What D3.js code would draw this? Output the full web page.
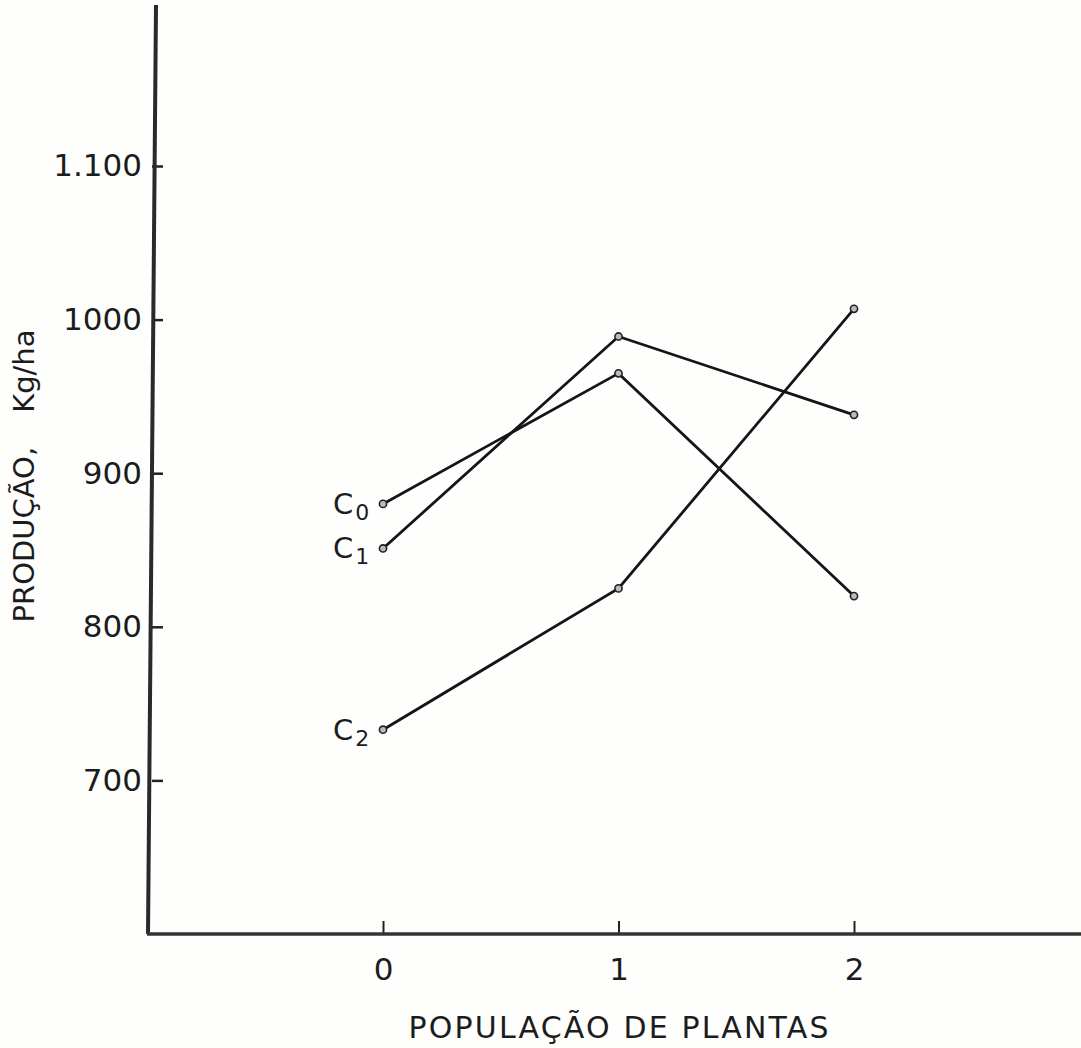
<!DOCTYPE html>
<html lang="pt">
<head>
    <meta charset="UTF-8">
    <title>Produção x População de plantas</title>
    <script src="https://d3js.org/d3.v7.min.js"></script>
    <style>
        body { margin: 0; background: #fff; }
        text { font-family: "DejaVu Sans", sans-serif; fill: #1c1c1c; }
    </style>
</head>
<body>
<script>

    // populacao de plantas (eixo x)
    var populacao = [0, 1, 2];

    // producao kg/ha de cada curva
    var serieNomes = ['0', '1', '2'];
    var c0 = [880, 965, 820];
    var c1 = [851, 989, 938];
    var c2 = [733, 825, 1007];

    var yTicks = [700, 800, 900, 1000, 1100];
    var yTickLabels = ['700', '800', '900', '1000', '1.100'];
    var xTicks = [0, 1, 2];

    var series = [c0, c1, c2];

    var W = 1081, H = 1048;

    var svg = d3.select('body')
        .append('svg')
        .attr('width', W)
        .attr('height', H);

    svg.append('rect')
        .attr('width', W)
        .attr('height', H)
        .attr('fill', '#fefefc');

    var x = d3.scaleLinear().domain([0, 2]).range([383, 854]);
    var y = d3.scaleLinear().domain([600, 1100]).range([934, 166]);

    var axisX = 152, axisY = y(600);

    // eixo y
    var gy = svg.append('g')
        .attr('transform', 'translate(' + axisX + ',0)')
        .call(d3.axisLeft(y)
            .tickValues(yTicks)
            .tickSizeInner(-11)
            .tickSizeOuter(0)
            .tickPadding(10)
            .tickFormat(function (d, i) { return yTickLabels[i]; }));
    gy.select('.domain').remove();
    gy.selectAll('.tick line').attr('stroke', '#222').attr('stroke-width', 2.5);
    gy.selectAll('.tick text')
        .attr('font-size', 31)
        .style('font-family', '"DejaVu Sans", sans-serif')
        .attr('fill', '#1c1c1c');

    // eixo x
    var gx = svg.append('g')
        .attr('transform', 'translate(0,' + axisY + ')')
        .call(d3.axisBottom(x)
            .tickValues(xTicks)
            .tickSizeInner(-13)
            .tickSizeOuter(0)
            .tickPadding(24)
            .tickFormat(d3.format('d')));
    gx.select('.domain').remove();
    gx.selectAll('.tick line').attr('stroke', '#222').attr('stroke-width', 2);
    gx.selectAll('.tick text')
        .attr('font-size', 31)
        .style('font-family', '"DejaVu Sans", sans-serif')
        .attr('fill', '#1c1c1c');

    // linhas dos eixos (mais grossas, como no desenho)
    svg.append('line')
        .attr('x1', axisX + 4).attr('y1', 5)
        .attr('x2', axisX - 4).attr('y2', axisY)
        .attr('stroke', '#2a2a2a')
        .attr('stroke-width', 4);
    svg.append('line')
        .attr('x1', axisX - 5).attr('y1', axisY)
        .attr('x2', W).attr('y2', axisY)
        .attr('stroke', '#333')
        .attr('stroke-width', 3.5);

    // titulos
    var ty = svg.append('text')
        .attr('transform', 'translate(34,476) rotate(-90)')
        .attr('text-anchor', 'middle')
        .attr('font-size', 29);
    ty.append('tspan').text('PRODUÇÃO,');
    ty.append('tspan').attr('dx', 34).text('Kg/ha');

    svg.append('text')
        .attr('x', x(1))
        .attr('y', 1038)
        .attr('text-anchor', 'middle')
        .attr('font-size', 30)
        .attr('textLength', 420)
        .text('POPULAÇÃO DE PLANTAS');

    // curvas
    var line = d3.line()
        .x(function (d, i) { return x(populacao[i]); })
        .y(function (d) { return y(d); });

    svg.selectAll('.curva')
        .data(series)
        .enter()
        .append('path')
        .attr('class', 'curva')
        .attr('d', line)
        .attr('fill', 'none')
        .attr('stroke', '#151515')
        .attr('stroke-width', 2.8);

    series.forEach(function (s) {
        svg.selectAll(null)
            .data(s)
            .enter()
            .append('circle')
            .attr('cx', function (d, i) { return x(populacao[i]); })
            .attr('cy', function (d) { return y(d); })
            .attr('r', 3.6)
            .attr('fill', '#bbb')
            .attr('stroke', '#222')
            .attr('stroke-width', 1.6);
    });

    // rotulos C0, C1, C2
    var rot = svg.selectAll('.rotulo')
        .data(series)
        .enter()
        .append('text')
        .attr('class', 'rotulo')
        .attr('x', x(0) - 50)
        .attr('y', function (d) { return y(d[0]) + 10; })
        .attr('font-size', 29);
    rot.append('tspan').text('C');
    rot.append('tspan')
        .attr('dy', 6)
        .attr('dx', 2)
        .attr('font-size', 22)
        .text(function (d, i) { return serieNomes[i]; });

</script>
</body>
</html>
